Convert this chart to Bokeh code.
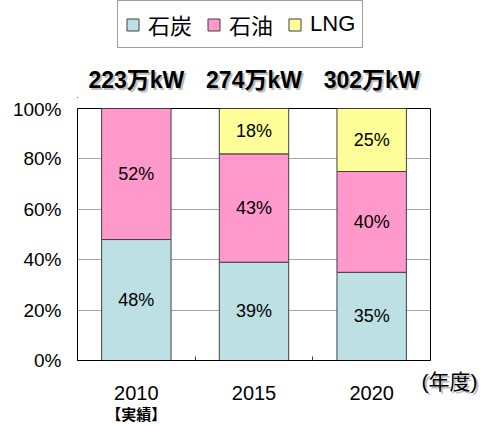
from bokeh.plotting import figure
from bokeh.layouts import column
from bokeh.models import (Range1d, FixedTicker, Legend, LegendItem,
                          ColumnDataSource, LinearAxis, Grid)
from bokeh.embed import file_html
from bokeh.resources import INLINE
from bokeh.core.properties import value

years = ["2010", "2015", "2020"]
notes = ["【実績】", "", ""]
totals = ["223万kW", "274万kW", "302万kW"]
coal = [48, 39, 35]
oil = [52, 43, 40]
lng = [0, 18, 25]
series = ["石炭", "石油", "LNG"]
colors = ["#BCE0E3", "#FF99CC", "#FFFF99"]
yticks = [0, 20, 40, 60, 80, 100]
unit_label = "(年度)"

FONT = "Liberation Sans, Noto Sans CJK JP"
W = 487
LEFT, RIGHT = 77, 57            # frame margins (px)
FRAME_H = 252
TOP_H, MAIN_PAD, BOT_H = 98, 10, 55
SHADOW = "#bdbdbd"

n = len(years)
x = [i + 0.5 for i in range(n)]
px_per_unit = (W - LEFT - RIGHT) / n

# ---------------- top panel: legend + totals ----------------
pt = figure(width=W, height=TOP_H, x_range=Range1d(0, n), y_range=Range1d(0, TOP_H),
            output_backend="svg", toolbar_location=None, x_axis_type=None, y_axis_type=None,
            min_border_left=LEFT, min_border_right=RIGHT, min_border_top=0, min_border_bottom=0)
pt.outline_line_color = None
pt.grid.visible = False
tsrc = ColumnDataSource(dict(x=x, y=[TOP_H - 79.5] * n, t=totals))
pt.text(x="x", y="y", text="t", source=tsrc, x_offset=2, y_offset=2,
        text_align="center", text_baseline="middle", text_font=value(FONT),
        text_font_size="23px", text_font_style="bold", text_color=SHADOW)
pt.text(x="x", y="y", text="t", source=tsrc,
        text_align="center", text_baseline="middle", text_font=value(FONT),
        text_font_size="23px", text_font_style="bold", text_color="black")
# legend proxies (kept outside the visible range)
proxies = [pt.vbar(x=[-n], top=[1], width=0.5, fill_color=c, line_color="#404040") for c in colors]
legend = Legend(items=[LegendItem(label=s, renderers=[r]) for s, r in zip(series, proxies)],
                orientation="horizontal", location=(40, TOP_H - 48),
                glyph_width=15, glyph_height=15, label_standoff=8, spacing=14, padding=7,
                margin=0, label_text_font=FONT, label_text_font_size="22px",
                label_text_color="black",
                border_line_color="#404040", border_line_width=1,
                background_fill_color="white", background_fill_alpha=1)
pt.add_layout(legend)

# ---------------- main chart ----------------
p = figure(width=W, height=FRAME_H + 2 * MAIN_PAD, x_range=pt.x_range, y_range=Range1d(0, 100),
           output_backend="svg", toolbar_location=None, x_axis_type=None, y_axis_type=None,
           min_border_left=LEFT, min_border_right=RIGHT,
           min_border_top=MAIN_PAD, min_border_bottom=MAIN_PAD)
p.outline_line_color = "black"
p.outline_line_width = 1

xaxis = LinearAxis(ticker=FixedTicker(ticks=x, minor_ticks=list(range(1, n))))
xaxis.major_tick_in = 0
xaxis.major_tick_out = 0
xaxis.minor_tick_in = 4
xaxis.minor_tick_out = 0
xaxis.minor_tick_line_color = "#404040"
xaxis.axis_line_color = "black"
xaxis.major_label_text_font_size = "0px"
xaxis.major_label_text_alpha = 0
xaxis.major_label_standoff = 0
p.add_layout(xaxis, "below")

yaxis = LinearAxis(ticker=FixedTicker(ticks=yticks),
                   major_label_overrides={v: f"{v}%" for v in yticks})
yaxis.major_tick_in = 0
yaxis.major_tick_out = 0
yaxis.minor_tick_in = 0
yaxis.minor_tick_out = 0
yaxis.axis_line_color = "black"
yaxis.major_label_text_font = FONT
yaxis.major_label_text_font_size = "19px"
yaxis.major_label_text_color = "black"
yaxis.major_label_standoff = 16
p.add_layout(yaxis, "left")

p.add_layout(Grid(dimension=1, ticker=yaxis.ticker, grid_line_color="#a6a6a6"))

src = ColumnDataSource(dict(x=x, coal=coal, oil=oil, lng=lng))
p.vbar_stack(["coal", "oil", "lng"], x="x", width=0.59, color=colors,
             line_color="#404040", line_width=1, source=src)

lx, ly, lt = [], [], []
for i in range(n):
    base = 0
    for vals in (coal, oil, lng):
        v = vals[i]
        if v > 0:
            lx.append(x[i]); ly.append(base + v / 2); lt.append(f"{v}%")
        base += v
p.text(x=lx, y=ly, text=lt, text_align="center", text_baseline="middle",
       text_font=value(FONT), text_font_size="18px", text_color="black")

# ---------------- bottom panel: category labels ----------------
pb = figure(width=W, height=BOT_H,
            x_range=Range1d(-LEFT / px_per_unit, n + RIGHT / px_per_unit),
            y_range=Range1d(0, BOT_H),
            output_backend="svg", toolbar_location=None, x_axis_type=None, y_axis_type=None,
            min_border_left=0, min_border_right=0, min_border_top=0, min_border_bottom=0)
pb.frame_align = False
pb.outline_line_color = None
pb.grid.visible = False
pb.text(x=x, y=[32.5] * n, text=years, text_align="center", text_baseline="middle",
        text_font=value(FONT), text_font_size="20px", text_color="black")
pb.text(x=x, y=[11] * n, text=notes, text_align="center", text_baseline="middle",
        text_font=value(FONT), text_font_size="15px", text_font_style="bold", text_color="black")
ux = [n + 19 / px_per_unit]
pb.text(x=ux, y=[44], text=[unit_label], x_offset=2, y_offset=2, text_align="center",
        text_baseline="middle", text_font=value(FONT), text_font_size="21px", text_color=SHADOW)
pb.text(x=ux, y=[44], text=[unit_label], text_align="center",
        text_baseline="middle", text_font=value(FONT), text_font_size="21px", text_color="black")

layout = column(pt, p, pb, spacing=0)
open("out.html", "w").write(file_html(layout, INLINE))
